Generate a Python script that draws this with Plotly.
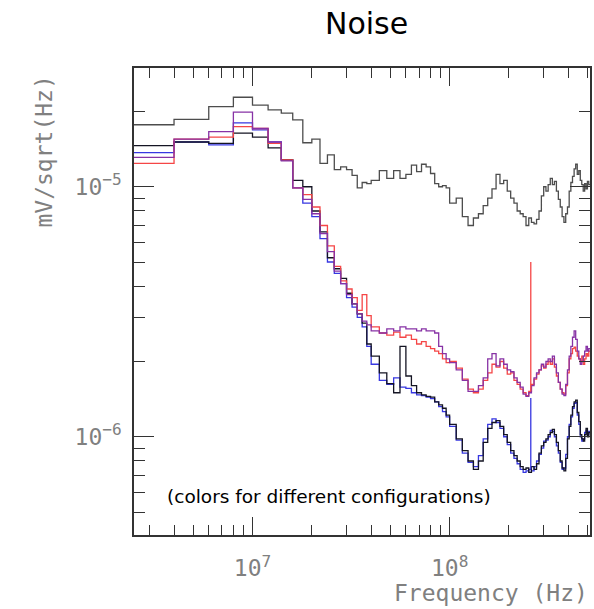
import numpy as np
import plotly.graph_objects as go

# FFT bin edges in MHz (2 MHz resolution at low f, merged bins at higher f)
edges_mhz = list(range(2, 40, 2)) + list(range(40, 100, 4)) + list(range(100, 517, 8))

# Noise density values per bin, in units of 1e-6 mV/sqrt(Hz)
grey_vals = [17.7, 18.6, 20.9, 22.8, 21.2, 20.3, 19.7, 18.5, 15.0, 15.5, 12.4, 13.4, 11.7, 12.0, 11.7, 11.1, 9.9, 10.4, 10.3,
             10.6, 11.6, 10.8, 11.6, 10.8, 11.2, 12.2, 11.5, 12.3, 12.0, 11.3, 10.3, 10.0, 10.1, 9.9,
             8.6, 9.0, 7.6, 7.0, 7.5, 7.8, 8.4, 9.0, 9.8, 11.2,
             10.3, 10.6, 9.6, 9.0, 8.6, 8.0, 7.8, 7.6, 7.0, 7.5,
             7.2, 7.1, 7.4, 8.0, 9.2, 10.0, 9.6, 10.2, 10.8, 10.2,
             10.5, 9.6, 8.9, 8.3, 7.6, 7.2, 7.8, 8.3, 9.6, 10.4,
             11.0, 11.8, 12.3, 11.2, 11.6, 10.6, 10.2, 9.6, 10.3, 9.8,
             10.5, 10.2]

black_vals = [14.6, 15.1, 14.9, 16.4, 15.8, 14.3, 12.8, 10.6, 10.0, 8.0, 6.6, 5.2, 4.7, 4.3, 3.75, 3.4, 3.1, 2.85, 2.35,
              2.1, 1.8, 1.63, 1.5, 2.3, 1.75, 1.6, 1.5, 1.47, 1.45, 1.44, 1.38, 1.34, 1.30, 1.22,
              1.12, 0.98, 0.88, 0.80, 0.74, 0.80, 0.95, 1.08, 1.14, 1.16,
              1.10, 1.02, 0.95, 0.88, 0.84, 0.80, 0.76, 0.74, 0.75, 0.72,
              0.76, 0.74, 0.78, 0.86, 0.92, 0.95, 0.98, 1.02, 1.04, 1.07,
              1.02, 0.95, 0.88, 0.80, 0.75, 0.73, 0.82, 0.98, 1.10, 1.22,
              1.32, 1.38, 1.40, 1.25, 1.15, 1.02, 0.98, 0.96, 1.02, 1.08,
              1.00, 1.04]

blue_vals = [13.7, 15.1, 14.7, 18.0, 16.9, 15.1, 12.8, 9.9, 8.6, 7.6, 6.2, 5.0, 4.5, 4.1, 3.6, 3.3, 3.0, 2.75, 2.3,
             1.95, 1.68, 1.62, 1.72, 1.58, 1.56, 1.50, 1.47, 1.46, 1.44, 1.42, 1.38, 1.32, 1.26, 1.20,
             1.10, 0.97, 0.86, 0.79, 0.76, 0.84, 0.98, 1.12, 1.18, 1.14,
             1.08, 1.00, 0.93, 0.86, 0.82, 0.78, 0.74, 0.72, 0.73, 0.74,
             0.73, 0.76, 0.80, 0.85, 0.90, 0.96, 0.97, 1.00, 1.06, 1.05,
             1.00, 0.92, 0.86, 0.79, 0.74, 0.75, 0.85, 1.00, 1.12, 1.20,
             1.30, 1.36, 1.37, 1.22, 1.12, 1.00, 0.96, 0.98, 1.04, 1.06,
             1.02, 1.05]

red_vals = [12.4, 15.5, 15.8, 17.4, 17.1, 14.9, 12.8, 9.9, 9.3, 8.3, 7.0, 5.8, 4.8, 4.2, 3.9, 3.6, 3.2, 3.7, 3.05,
            2.75, 2.6, 2.55, 2.62, 2.5, 2.55, 2.45, 2.35, 2.4, 2.3, 2.25, 2.2, 2.15, 2.05, 1.98,
            2.00, 1.88, 1.70, 1.55, 1.50, 1.55, 1.68, 1.80, 1.95, 1.90,
            2.00, 1.88, 1.78, 1.80, 1.68, 1.62, 1.55, 1.50, 1.46, 1.52,
            1.62, 1.70, 1.78, 1.85, 1.92, 1.88, 1.95, 2.00, 1.95, 2.05,
            1.90, 1.75, 1.65, 1.55, 1.50, 1.48, 1.60, 1.80, 2.05, 2.15,
            2.25, 2.28, 2.20, 2.10, 2.05, 2.00, 2.10, 1.95, 2.05, 2.15,
            2.10, 2.20]

purple_vals = [13.1, 15.5, 16.6, 19.9, 17.1, 15.1, 12.7, 9.9, 8.9, 7.8, 6.5, 5.5, 4.6, 4.1, 3.7, 3.4, 3.1, 2.9, 2.8,
               2.65, 2.6, 2.7, 2.65, 2.75, 2.7, 2.7, 2.65, 2.7, 2.65, 2.65, 2.6, 2.3, 2.15, 2.05,
               1.98, 1.85, 1.68, 1.52, 1.52, 1.60, 1.72, 2.05, 2.15, 1.92,
               2.05, 1.95, 1.85, 1.82, 1.72, 1.65, 1.58, 1.48, 1.45, 1.50,
               1.60, 1.72, 1.80, 1.85, 1.95, 1.90, 2.00, 2.05, 2.00, 2.10,
               1.95, 1.80, 1.65, 1.55, 1.48, 1.46, 1.62, 1.85, 2.10, 2.30,
               2.50, 2.65, 2.45, 2.20, 2.05, 1.95, 2.00, 2.10, 2.20, 2.30,
               2.20, 2.25]

# narrow pickup line
spike_mhz = 258
red_spike_top = 5.0
blue_spike_top = 1.43

unit = 1e-6
x_edges = np.array(edges_mhz, dtype=float) * 1e6


def step_y(vals):
    v = list(vals) + [vals[-1]]
    return np.array(v) * unit


def value_at(vals, f_mhz):
    idx = np.searchsorted(edges_mhz, f_mhz, side="right") - 1
    return vals[idx] * unit


fig = go.Figure()
series = [
    (grey_vals, "#4d4d4d"),
    (blue_vals, "rgb(55,55,225)"),
    (black_vals, "rgb(20,20,35)"),
    (red_vals, "rgb(245,70,70)"),
    (purple_vals, "rgb(135,50,165)"),
]
for vals, col in series:
    fig.add_trace(go.Scatter(x=x_edges, y=step_y(vals), mode="lines",
                             line=dict(shape="hv", color=col, width=1.3),
                             showlegend=False, hoverinfo="skip"))

fig.add_trace(go.Scatter(x=[spike_mhz * 1e6] * 2,
                         y=[value_at(red_vals, spike_mhz), red_spike_top * unit],
                         mode="lines", line=dict(color="rgb(245,70,70)", width=1.3),
                         showlegend=False, hoverinfo="skip"))
fig.add_trace(go.Scatter(x=[spike_mhz * 1e6] * 2,
                         y=[value_at(blue_vals, spike_mhz), blue_spike_top * unit],
                         mode="lines", line=dict(color="rgb(55,55,225)", width=1.3),
                         showlegend=False, hoverinfo="skip"))

tick_font = dict(family="DejaVu Sans Mono", size=23, color="#808080")

x_major = [1e7, 1e8]
x_major_txt = ["10<sup>7</sup>", "10<sup>8</sup>"]
x_minor = [m * 10 ** e for e in (6, 7, 8) for m in range(2, 10) if 2.5e6 <= m * 10 ** e <= 5.2e8]
y_major = [1e-6, 1e-5]
y_major_txt = ["10<sup>\u22126</sup>", "10<sup>\u22125</sup>"]
y_minor = [m * 10 ** e for e in (-7, -6, -5) for m in range(2, 10) if 4e-7 <= m * 10 ** e <= 3e-5]

axis_common = dict(type="log", showline=True, linecolor="#333", linewidth=1.5, mirror="allticks",
                   ticks="inside", tickcolor="#333", tickwidth=1.2, showgrid=False, zeroline=False,
                   tickmode="array", tickfont=tick_font)

fig.update_xaxes(range=[6.399, 8.712], tickvals=x_major, ticktext=x_major_txt, ticklen=18,
                 ticklabelstandoff=12,
                 minor=dict(tickmode="array", tickvals=x_minor, ticks="inside", ticklen=10,
                            tickcolor="#333", tickwidth=1.2, showgrid=False),
                 **axis_common)
fig.update_yaxes(range=[-6.393, -4.525], tickvals=y_major, ticktext=y_major_txt, ticklen=20,
                 ticklabelstandoff=6,
                 minor=dict(tickmode="array", tickvals=y_minor, ticks="inside", ticklen=11,
                            tickcolor="#333", tickwidth=1.2, showgrid=False),
                 **axis_common)

fig.update_layout(
    width=594, height=609,
    margin=dict(l=134, r=2, t=68, b=74),
    paper_bgcolor="white", plot_bgcolor="white",
    title=dict(text="Noise", x=0.51, xref="paper", xanchor="center", y=1 - 23 / 609,
               yref="container", yanchor="middle",
               font=dict(family="DejaVu Sans", size=30, color="black")),
    annotations=[
        dict(text="(colors for different configurations)", xref="paper", yref="paper",
             x=0.428, y=0.0814, xanchor="center", yanchor="middle", showarrow=False,
             font=dict(family="DejaVu Sans", size=18.5, color="black")),
        dict(text="Frequency (Hz)", xref="paper", yref="paper", x=1.0, y=-0.124,
             xanchor="right", yanchor="middle", showarrow=False,
             font=dict(family="DejaVu Sans Mono", size=23, color="#808080")),
        dict(text="mV/sqrt(Hz)", xref="paper", yref="paper", x=-0.1965, y=0.822,
             xanchor="center", yanchor="middle", textangle=-90, showarrow=False,
             font=dict(family="DejaVu Sans Mono", size=23, color="#808080")),
    ],
)

fig.write_html("out.html")
